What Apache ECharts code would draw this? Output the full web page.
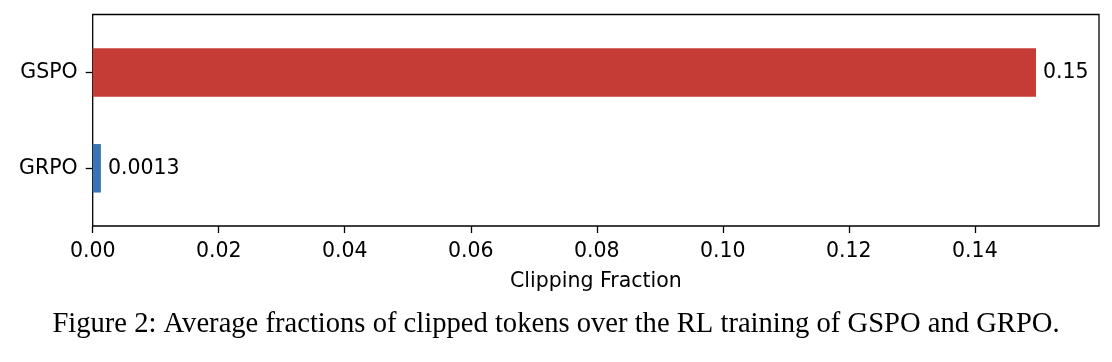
<!DOCTYPE html>
<html>
<head>
<meta charset="utf-8">
<script src="https://cdn.jsdelivr.net/npm/echarts@6/dist/echarts.min.js"></script>
<style>
html,body{margin:0;padding:0;background:#fff;}
#chart{width:1112px;height:362px;}
</style>
</head>
<body>
<div id="chart"></div>
<script>
const categories = ['GRPO', 'GSPO'];
const values = [0.0013, 0.1497];
const barColors = ['#3b74b2', '#c43c35'];
const xTicks = [0, 0.02, 0.04, 0.06, 0.08, 0.10, 0.12, 0.14];
const xMax = 0.1597;
const xLabel = 'Clipping Fraction';
const caption = 'Figure 2: Average fractions of clipped tokens over the RL training of GSPO and GRPO.';

const font = 'DejaVu Sans';
const chart = echarts.init(document.getElementById('chart'), null, {renderer: 'canvas'});
const gridLeft = 92.7, gridWidth = 1006.3;
chart.setOption({
  animation: false,
  title: {
    text: caption,
    left: 'center',
    top: 305,
    textStyle: {fontFamily: 'Liberation Serif', fontSize: 28.6, fontWeight: 'normal', color: '#000'}
  },
  grid: [
    {left: gridLeft, top: 14.5, width: gridWidth, height: 211.5, show: true, borderColor: '#000', borderWidth: 1.3, backgroundColor: 'transparent'},
    {left: gridLeft, top: 24.6, width: gridWidth, height: 191.6}
  ],
  xAxis: [
    {
      type: 'value', gridIndex: 0, min: 0, max: xMax,
      splitLine: {show: false},
      axisLine: {show: false},
      axisTick: {show: true, length: 7, lineStyle: {color: '#000', width: 1.3}, customValues: xTicks},
      axisLabel: {color: '#000', fontFamily: font, fontSize: 20.5, margin: 15, customValues: xTicks,
        formatter: v => v.toFixed(2)},
      name: xLabel, nameLocation: 'middle', nameGap: 45,
      nameTextStyle: {color: '#000', fontFamily: font, fontSize: 20.5}
    },
    {
      type: 'value', gridIndex: 1, min: 0, max: xMax, show: false
    }
  ],
  yAxis: [
    {type: 'value', gridIndex: 0, show: false, min: 0, max: 1},
    {
      type: 'category', gridIndex: 1, data: categories,
      axisLine: {show: false},
      axisTick: {show: true, alignWithLabel: true, length: 7, lineStyle: {color: '#000', width: 1.3}},
      axisLabel: {color: '#000', fontFamily: font, fontSize: 20.5, margin: 15},
      splitLine: {show: false}
    }
  ],
  series: [{
    type: 'bar', xAxisIndex: 1, yAxisIndex: 1,
    barWidth: 48.5,
    data: values.map((v, i) => ({value: v, itemStyle: {color: barColors[i]}})),
    label: {
      show: true, position: 'right', distance: 7,
      color: '#000', fontFamily: font, fontSize: 20.5,
      formatter: p => Number(p.value).toPrecision(2).replace(/^(0\.\d*?)0+$/, '$1')
    }
  }]
});
</script>
</body>
</html>
